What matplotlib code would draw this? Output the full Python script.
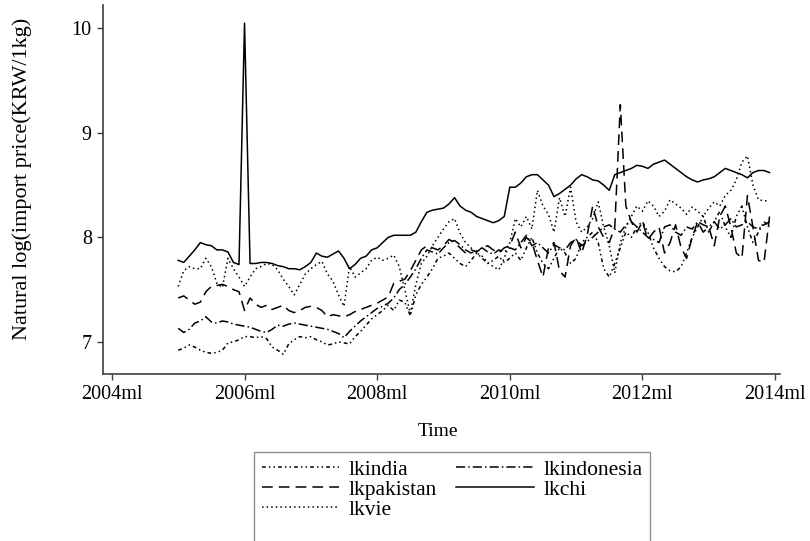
import numpy as np
import matplotlib
matplotlib.use("Agg")
import matplotlib.pyplot as plt
from matplotlib.lines import Line2D

plt.rcParams['font.family'] = ['Liberation Serif', 'DejaVu Serif']

# monthly series, 2005m1 .. 2013m12
lkindia = [
    6.92, 6.94, 6.97, 6.95, 6.92, 6.90, 6.89, 6.90, 6.92, 6.99, 7.00, 7.02,
    7.05, 7.05, 7.04, 7.05, 7.03, 6.95, 6.92, 6.88, 6.98, 7.02, 7.05, 7.04,
    7.05, 7.02, 7.00, 6.97, 6.98, 7.00, 6.99, 6.98, 7.05, 7.10, 7.16, 7.22,
    7.26, 7.30, 7.35, 7.30, 7.40, 7.38, 7.25, 7.45, 7.55, 7.62, 7.70, 7.80,
    7.82, 7.85, 7.80, 7.75, 7.72, 7.78, 7.85, 7.80, 7.75, 7.78, 7.82, 7.76,
    7.80, 7.85, 7.78, 7.90, 8.00, 7.85, 7.75, 7.70, 7.80, 7.90, 7.85, 7.75,
    7.80, 7.95, 8.00, 8.05, 7.95, 7.70, 7.62, 7.75, 7.90, 8.05, 8.00, 8.10,
    8.15, 8.05, 7.90, 7.80, 7.72, 7.68, 7.67, 7.72, 7.85, 8.00, 8.10, 8.20,
    8.05, 8.15, 8.25, 8.10, 8.00, 8.20, 8.30, 8.10, 7.95, 8.05, 8.15, 8.10,
]
lkindonesia = [
    7.13, 7.09, 7.12, 7.18, 7.20, 7.24, 7.19, 7.18, 7.20, 7.19, 7.17, 7.16,
    7.15, 7.14, 7.12, 7.10, 7.09, 7.12, 7.16, 7.15, 7.17, 7.18, 7.17, 7.16,
    7.15, 7.14, 7.13, 7.12, 7.10, 7.08, 7.04, 7.10, 7.15, 7.20, 7.24, 7.28,
    7.32, 7.34, 7.37, 7.42, 7.50, 7.55, 7.62, 7.70, 7.80, 7.88, 7.86, 7.84,
    7.90, 7.95, 7.97, 7.93, 7.88, 7.85, 7.87, 7.90, 7.86, 7.84, 7.88, 7.86,
    7.90, 7.88, 7.95, 8.02, 7.92, 7.95, 7.90, 7.85, 7.93, 7.90, 7.88, 7.95,
    7.98, 7.92, 7.96, 8.00, 8.05, 8.10, 8.12, 8.08, 8.05, 8.12, 8.15, 8.10,
    8.05, 8.00, 7.98, 7.95, 8.10, 8.12, 8.05, 8.02, 8.10, 8.08, 8.15, 8.12,
    8.10, 8.15, 8.08, 8.12, 8.18, 8.10, 8.12, 8.15, 8.10, 8.08, 8.12, 8.15,
]
lkpakistan = [
    7.42, 7.44, 7.40, 7.36, 7.38, 7.48, 7.53, 7.54, 7.55, 7.53, 7.50, 7.48,
    7.30, 7.42, 7.36, 7.33, 7.35, 7.31, 7.33, 7.35, 7.30, 7.28, 7.30, 7.33,
    7.34, 7.33, 7.30, 7.24, 7.26, 7.25, 7.24, 7.26, 7.29, 7.31, 7.33, 7.35,
    7.37, 7.40, 7.43, 7.56, 7.58, 7.60, 7.68, 7.78, 7.88, 7.92, 7.90, 7.88,
    7.92, 7.98, 7.95, 7.90, 7.85, 7.88, 7.86, 7.90, 7.92, 7.88, 7.85, 7.90,
    7.92, 8.05, 7.90, 8.00, 7.95, 7.78, 7.62, 7.90, 7.95, 7.68, 7.62, 7.92,
    8.00, 7.85, 8.02, 8.30, 8.10, 8.00, 7.95, 8.10, 9.27, 8.30, 8.15, 8.05,
    8.15, 7.98, 8.05, 8.10, 7.85, 7.95, 8.12, 7.90, 7.80, 8.00, 8.15, 8.05,
    8.10, 7.92, 8.20, 8.30, 8.10, 7.85, 7.80, 8.40, 8.10, 7.78, 7.76, 8.20,
]
lkchi = [
    7.78, 7.76, 7.82, 7.88, 7.95, 7.93, 7.92, 7.88, 7.88, 7.86, 7.76, 7.74,
    10.05, 7.75, 7.75, 7.76, 7.76, 7.75, 7.73, 7.72, 7.70, 7.70, 7.69, 7.72,
    7.76, 7.85, 7.82, 7.81, 7.84, 7.87, 7.80, 7.70, 7.74, 7.80, 7.82, 7.88,
    7.90, 7.95, 8.00, 8.02, 8.02, 8.02, 8.02, 8.05, 8.15, 8.24, 8.26, 8.27,
    8.28, 8.32, 8.38, 8.30, 8.26, 8.24, 8.20, 8.18, 8.16, 8.14, 8.16, 8.20,
    8.48, 8.48, 8.52, 8.58, 8.60, 8.60, 8.55, 8.50, 8.39, 8.42, 8.46, 8.50,
    8.56, 8.60, 8.58, 8.55, 8.54, 8.50, 8.45, 8.60, 8.62, 8.64, 8.66, 8.69,
    8.68, 8.66, 8.70, 8.72, 8.74, 8.70, 8.66, 8.62, 8.58, 8.55, 8.53, 8.55,
    8.56, 8.58, 8.62, 8.66, 8.64, 8.62, 8.60, 8.57, 8.62, 8.64, 8.64, 8.62,
]
lkvie = [
    7.53, 7.68, 7.72, 7.70, 7.70, 7.80, 7.72, 7.56, 7.52, 7.80, 7.70, 7.62,
    7.53, 7.62, 7.70, 7.72, 7.75, 7.74, 7.69, 7.60, 7.53, 7.45, 7.55, 7.65,
    7.70, 7.74, 7.77, 7.65, 7.58, 7.45, 7.34, 7.72, 7.62, 7.66, 7.70, 7.78,
    7.81, 7.78, 7.80, 7.83, 7.72, 7.50, 7.27, 7.55, 7.75, 7.82, 7.92, 8.00,
    8.08, 8.15, 8.18, 8.04, 7.95, 7.90, 7.85, 7.82, 7.76, 7.72, 7.69, 7.80,
    7.95, 8.18, 8.10, 8.20, 8.08, 8.45, 8.30, 8.22, 8.05, 8.38, 8.20, 8.48,
    8.15, 8.05, 8.10, 8.18, 8.34, 8.10, 7.92, 7.66, 7.95, 8.10, 8.20, 8.30,
    8.25, 8.35, 8.30, 8.20, 8.25, 8.36, 8.32, 8.28, 8.22, 8.29, 8.25, 8.20,
    8.28, 8.34, 8.30, 8.40, 8.45, 8.55, 8.72, 8.78, 8.50, 8.36, 8.35, 8.35,
]

series_names = ["lkindia", "lkindonesia", "lkpakistan", "lkchi", "lkvie"]
x_ticks = [2004, 2006, 2008, 2010, 2012, 2014]
x_labels = ["2004ml", "2006ml", "2008ml", "2010ml", "2012ml", "2014ml"]
y_ticks = [7, 8, 9, 10]

months = 2005 + np.arange(len(lkchi)) / 12.0

fig = plt.figure(figsize=(8.1, 5.41), dpi=100)
ax = fig.add_axes([0.127, 0.309, 0.836, 0.681])

styles = [(0, (2.5, 2, 1, 2, 1, 2)), (0, (6, 2, 1, 2)), (0, (7, 4)), '-', (0, (1, 2))]
data = [lkindia, lkindonesia, lkpakistan, lkchi, lkvie]
lines = {}
for name, vals, ls in zip(series_names, data, styles):
    lines[name], = ax.plot(months, vals, color='black', lw=1.1, linestyle=ls, label=name)

ax.set_xlim(2003.864, 2014.075)
ax.set_ylim(6.694, 10.22)
ax.set_xticks(x_ticks)
ax.set_xticklabels(x_labels)
ax.set_yticks(y_ticks)
ax.spines['top'].set_visible(False)
ax.spines['right'].set_visible(False)
for s in ['left', 'bottom']:
    ax.spines[s].set_color('0.25')
    ax.spines[s].set_linewidth(1.2)
ax.tick_params(direction='out', length=4, width=1, colors='0.25', labelcolor='black',
               labelsize=14.5, pad=4)
ax.set_xlabel("Time", fontsize=14)
ax.set_ylabel("Natural log(import price(KRW/1kg)", fontsize=16)
ax.xaxis.set_label_coords(0.495, -0.133)
ax.yaxis.set_label_coords(-0.105, 0.528)

# row-major order like the original legend; blank entries push the
# bottom edge of the box past the figure edge, as in the original
blank = Line2D([], [], linestyle='none')
handles = [lines["lkindia"], lines["lkpakistan"], lines["lkvie"], blank,
           lines["lkindonesia"], lines["lkchi"], blank]
labels = ["lkindia", "lkpakistan", "lkvie", " ", "lkindonesia", "lkchi", " "]
leg = fig.legend(handles, labels, loc='upper left',
                 bbox_to_anchor=(254 / 810, 1 - 452 / 541), ncol=2,
                 fontsize=15.5, frameon=True, fancybox=False, handlelength=3.6,
                 handletextpad=0.45, columnspacing=0.9, labelspacing=0.0,
                 borderpad=0.35, borderaxespad=0)
leg.get_frame().set_edgecolor('0.45')
leg.get_frame().set_linewidth(1.0)

fig.savefig("out.png", dpi=100)
